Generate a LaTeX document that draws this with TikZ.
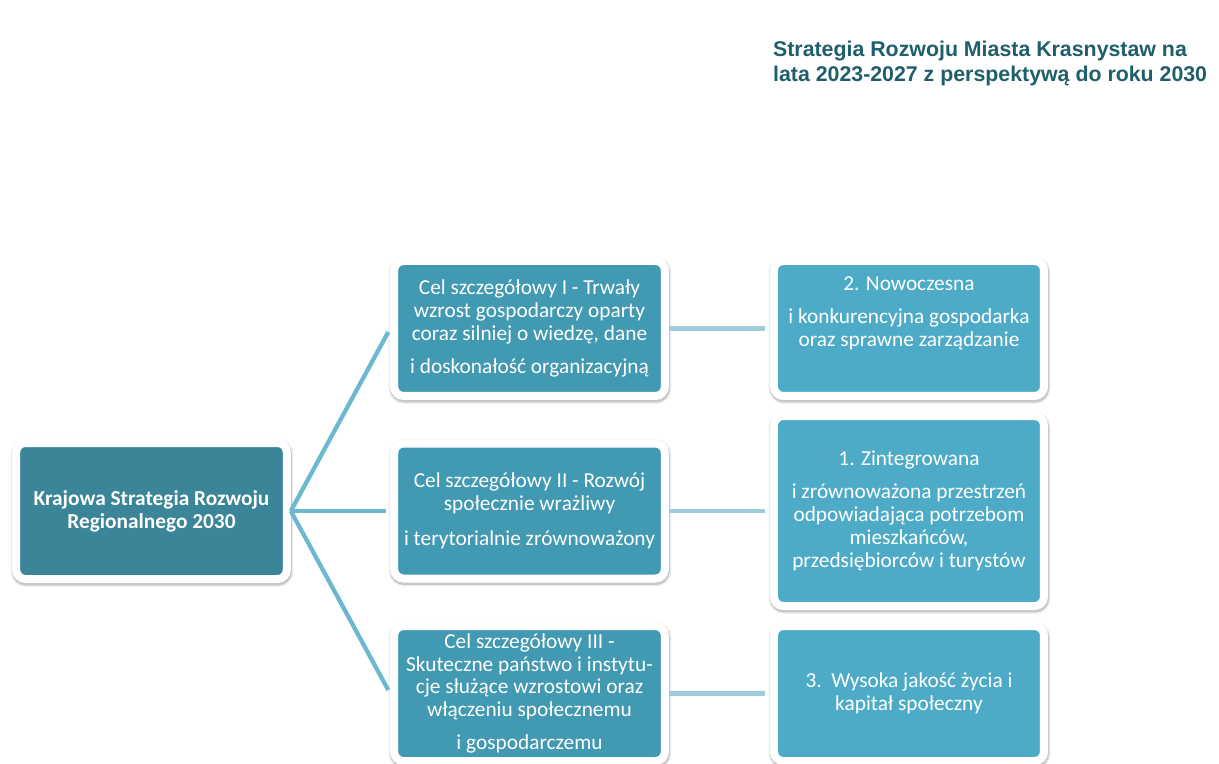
\documentclass[tikz,border=0pt]{standalone}
\usepackage{fontspec}
\setmainfont{Carlito}
\newfontfamily\titlefont{Liberation Sans}
\usetikzlibrary{shadows}
\definecolor{kskDark}{RGB}{58,133,152}
\definecolor{kskMid}{RGB}{66,153,178}
\definecolor{kskLight}{RGB}{78,171,199}
\definecolor{kskLine}{RGB}{108,184,206}
\definecolor{kskLineB}{RGB}{160,203,220}
\definecolor{kskTitle}{RGB}{31,94,107}

\begin{document}
\begin{tikzpicture}[x=0.75pt,y=-0.75pt,-,shorten >=1pt,line width=3.2pt,
    main node/.style={rectangle,rounded corners=7pt,draw=white,line width=6pt,
        text=white,align=center,font=\fontsize{16}{17.25}\selectfont,
        minimum width=203pt,minimum height=101.25pt,inner sep=0pt,
        general shadow={shadow xshift=0.4pt,shadow yshift=-1.4pt,opacity=0.07,
            fill=black,draw=black,line width=9pt},
        general shadow={shadow xshift=0.4pt,shadow yshift=-1.4pt,opacity=0.16,
            fill=black,draw=black,line width=6.8pt}},
    goal node/.style={main node,fill=kskMid},
    area node/.style={main node,fill=kskLight,minimum width=202.5pt}]

    \useasboundingbox (0,0) rectangle (1219,763);

    \node (0) [anchor=north west,align=left,text=kskTitle,
        font=\titlefont\bfseries\fontsize{16}{18.75}\selectfont,inner sep=0pt]
        at (771,39) {Strategia Rozwoju Miasta Krasnystaw na\\lata 2023-2027 z perspektywą do roku 2030};

    \node (1) [main node,fill=kskDark,minimum height=102pt,font=\bfseries\fontsize{16}{17.25}\selectfont]
        at (151.5,511) {Krajowa Strategia Rozwoju\\Regionalnego 2030};

    \node (3) [goal node,right of=1,node distance=283.5pt]
        {Cel szczegółowy II - Rozwój\\społecznie wrażliwy\\[9pt]i terytorialnie zrównoważony};
    \node (2) [goal node,above of=3,node distance=136.9pt]
        {Cel szczegółowy I - Trwały\\wzrost gospodarczy oparty\\coraz silniej o wiedzę, dane\\[7pt]i doskonałość organizacyjną};
    \node (4) [goal node,below of=3,node distance=136.9pt,font=\fontsize{16}{16.9}\selectfont]
        {Cel szczegółowy III -\\Skuteczne państwo i instytu-\\cje służące wzrostowi oraz\\włączeniu społecznemu\\[8pt]i gospodarczemu};

    \node (5) [area node,right of=2,node distance=284.6pt]
        {2. Nowoczesna\\[7.5pt]i konkurencyjna gospodarka\\oraz sprawne zarządzanie\\[8pt]\mbox{}};
    \node (6) [area node,right of=3,node distance=284.6pt,minimum height=142.5pt]
        {1. Zintegrowana\\[7pt]i zrównoważona przestrzeń\\odpowiadająca potrzebom\\mieszkańców,\\przedsiębiorców i turystów};
    \node (7) [area node,right of=4,node distance=284.6pt]
        {3.\ \ Wysoka jakość życia i\\kapitał społeczny};

    \path[draw=kskLine,shorten >=3pt]
    (1.east) edge (2.west)
    (1.east) edge (3.west)
    (1.east) edge (4.west)
        ;
    \path[draw=kskLineB,shorten >=4pt]
    (2.east) edge (5.west)
    (3.east) edge (6.west)
    (4.east) edge (7.west)
        ;
\end{tikzpicture}
\end{document}
